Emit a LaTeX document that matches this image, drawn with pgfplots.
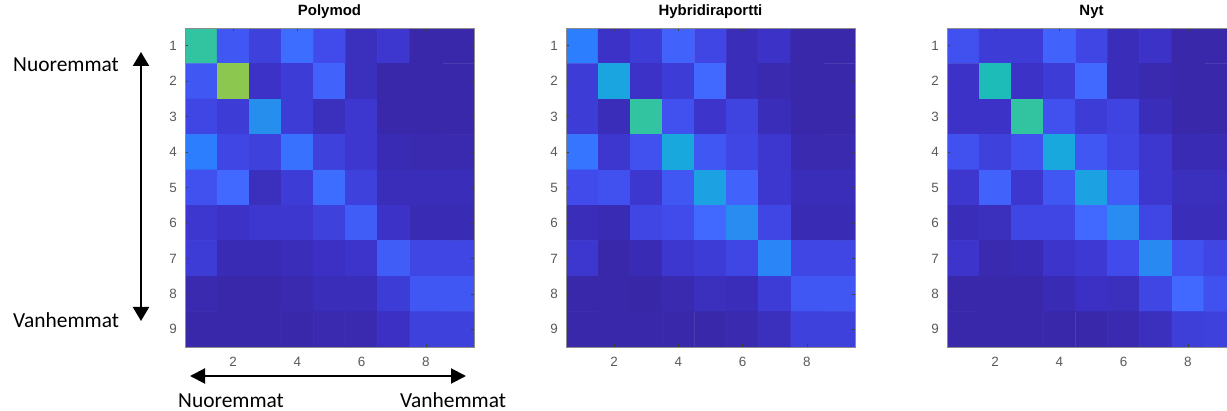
\documentclass[border=0pt]{standalone}
\usepackage{fontspec}
\setmainfont{Liberation Sans}
\newfontfamily\carlito{Carlito}
\usepackage{pgfplots}
\pgfplotsset{compat=1.18}
\usetikzlibrary{arrows.meta}
\pgfplotsset{
  colormap={parula}{rgb255(0pt)=(55,36,155) rgb255(2pt)=(57,40,170) rgb255(5pt)=(60,50,200)
    rgb255(10pt)=(65,75,235) rgb255(15pt)=(65,105,255) rgb255(20pt)=(45,125,255)
    rgb255(25pt)=(40,140,240) rgb255(35pt)=(25,168,222) rgb255(45pt)=(30,190,180)
    rgb255(50pt)=(50,195,160) rgb255(62pt)=(140,200,80) rgb255(100pt)=(249,251,14)},
  hm/.style={scale only axis, width=289bp, height=319bp,
    xmin=0.5, xmax=9.5, ymin=0.5, ymax=9.5, y dir=reverse,
    xtick={2,4,6,8}, ytick={1,2,3,4,5,6,7,8,9},
    tick align=inside, major tick length=3bp,
    tick style={color=black!75, line width=0.5pt},
    axis line style={color=black!45, line width=0.6pt},
    tick label style={font=\fontsize{13.5}{13.5}\selectfont, text=black!65, inner sep=0pt},
    yticklabel style={anchor=east, xshift=-8bp},
    xticklabel style={anchor=north, yshift=-10bp},
    /pgf/number format/assume math mode=true,
    colormap name=parula, point meta min=0, point meta max=1,
    axis on top, anchor=south west,
    title style={font=\bfseries\fontsize{15}{15}\selectfont, at={(0.5,1)}, anchor=base, yshift=7bp, inner sep=0pt},
  },
}
\begin{document}
\begin{tikzpicture}
\useasboundingbox (0,0) rectangle (1227bp,411bp);
\clip (0,0) rectangle (1227bp,411bp);
\begin{axis}[hm, at={(185bp,64bp)}, title={Polymod}]
\addplot[matrix plot*, mesh/cols=9, point meta=explicit] table[meta=c] {
x y c
1 1 0.50
2 1 0.12
3 1 0.08
4 1 0.16
5 1 0.10
6 1 0.04
7 1 0.06
8 1 0.02
9 1 0.02
1 2 0.12
2 2 0.62
3 2 0.05
4 2 0.07
5 2 0.14
6 2 0.04
7 2 0.02
8 2 0.02
9 2 0.02
1 3 0.09
2 3 0.07
3 3 0.26
4 3 0.07
5 3 0.04
6 3 0.06
7 3 0.02
8 3 0.02
9 3 0.02
1 4 0.20
2 4 0.09
3 4 0.08
4 4 0.17
5 4 0.08
6 4 0.06
7 4 0.03
8 4 0.025
9 4 0.025
1 5 0.11
2 5 0.15
3 5 0.04
4 5 0.07
5 5 0.16
6 5 0.08
7 5 0.035
8 5 0.035
9 5 0.035
1 6 0.06
2 6 0.05
3 6 0.06
4 6 0.06
5 6 0.08
6 6 0.13
7 6 0.05
8 6 0.03
9 6 0.03
1 7 0.07
2 7 0.03
3 7 0.03
4 7 0.035
5 7 0.045
6 7 0.055
7 7 0.13
8 7 0.09
9 7 0.09
1 8 0.025
2 8 0.02
3 8 0.02
4 8 0.025
5 8 0.035
6 8 0.035
7 8 0.07
8 8 0.12
9 8 0.12
1 9 0.02
2 9 0.02
3 9 0.02
4 9 0.02
5 9 0.025
6 9 0.025
7 9 0.045
8 9 0.08
9 9 0.08
};
\end{axis}
\begin{axis}[hm, at={(566bp,64bp)}, title={Hybridiraportti}]
\addplot[matrix plot*, mesh/cols=9, point meta=explicit] table[meta=c] {
x y c
1 1 0.20
2 1 0.05
3 1 0.07
4 1 0.14
5 1 0.09
6 1 0.035
7 1 0.05
8 1 0.02
9 1 0.02
1 2 0.07
2 2 0.34
3 2 0.05
4 2 0.07
5 2 0.15
6 2 0.035
7 2 0.025
8 2 0.02
9 2 0.02
1 3 0.07
2 3 0.035
3 3 0.50
4 3 0.11
5 3 0.055
6 3 0.085
7 3 0.035
8 3 0.02
9 3 0.02
1 4 0.18
2 4 0.06
3 4 0.11
4 4 0.35
5 4 0.12
6 4 0.09
7 4 0.06
8 4 0.025
9 4 0.025
1 5 0.10
2 5 0.11
3 5 0.06
4 5 0.12
5 5 0.33
6 5 0.14
7 5 0.06
8 5 0.035
9 5 0.035
1 6 0.035
2 6 0.03
3 6 0.09
4 6 0.10
5 6 0.15
6 6 0.25
7 6 0.09
8 6 0.03
9 6 0.03
1 7 0.06
2 7 0.02
3 7 0.03
4 7 0.06
5 7 0.07
6 7 0.09
7 7 0.23
8 7 0.09
9 7 0.09
1 8 0.02
2 8 0.02
3 8 0.015
4 8 0.025
5 8 0.04
6 8 0.035
7 8 0.07
8 8 0.12
9 8 0.12
1 9 0.02
2 9 0.02
3 9 0.02
4 9 0.02
5 9 0.02
6 9 0.025
7 9 0.04
8 9 0.08
9 9 0.08
};
\end{axis}
\begin{axis}[hm, at={(947bp,64bp)}, title={Nyt}]
\addplot[matrix plot*, mesh/cols=9, point meta=explicit] table[meta=c] {
x y c
1 1 0.11
2 1 0.07
3 1 0.07
4 1 0.14
5 1 0.09
6 1 0.035
7 1 0.05
8 1 0.02
9 1 0.02
1 2 0.05
2 2 0.44
3 2 0.05
4 2 0.07
5 2 0.15
6 2 0.035
7 2 0.025
8 2 0.02
9 2 0.02
1 3 0.05
2 3 0.05
3 3 0.50
4 3 0.11
5 3 0.07
6 3 0.085
7 3 0.035
8 3 0.02
9 3 0.02
1 4 0.11
2 4 0.08
3 4 0.11
4 4 0.35
5 4 0.12
6 4 0.09
7 4 0.06
8 4 0.03
9 4 0.03
1 5 0.06
2 5 0.14
3 5 0.06
4 5 0.12
5 5 0.33
6 5 0.13
7 5 0.06
8 5 0.04
9 5 0.04
1 6 0.035
2 6 0.04
3 6 0.09
4 6 0.09
5 6 0.15
6 6 0.25
7 6 0.09
8 6 0.035
9 6 0.035
1 7 0.055
2 7 0.025
3 7 0.03
4 7 0.055
5 7 0.065
6 7 0.10
7 7 0.24
8 7 0.11
9 7 0.09
1 8 0.02
2 8 0.02
3 8 0.02
4 8 0.03
5 8 0.045
6 8 0.04
7 8 0.09
8 8 0.15
9 8 0.11
1 9 0.02
2 9 0.02
3 9 0.02
4 9 0.02
5 9 0.02
6 9 0.025
7 9 0.04
8 9 0.075
9 9 0.08
};
\end{axis}
\draw[line width=2bp, {Triangle[width=16bp,length=14bp]}-{Triangle[width=16bp,length=14bp]}] (141bp,359bp) -- (141bp,90bp);
\draw[line width=2bp, {Triangle[width=15bp,length=15bp]}-{Triangle[width=15bp,length=15bp]}] (190bp,35bp) -- (466bp,35bp);
\node[anchor=base west, inner sep=0pt, font=\carlito\fontsize{21.5}{21.5}\selectfont] at (13bp,339bp) {Nuoremmat};
\node[anchor=base west, inner sep=0pt, font=\carlito\fontsize{21.5}{21.5}\selectfont] at (13bp,83bp) {Vanhemmat};
\node[anchor=base west, inner sep=0pt, font=\carlito\fontsize{21.5}{21.5}\selectfont] at (178bp,4bp) {Nuoremmat};
\node[anchor=base west, inner sep=0pt, font=\carlito\fontsize{21.5}{21.5}\selectfont] at (400bp,4bp) {Vanhemmat};
\end{tikzpicture}
\end{document}
